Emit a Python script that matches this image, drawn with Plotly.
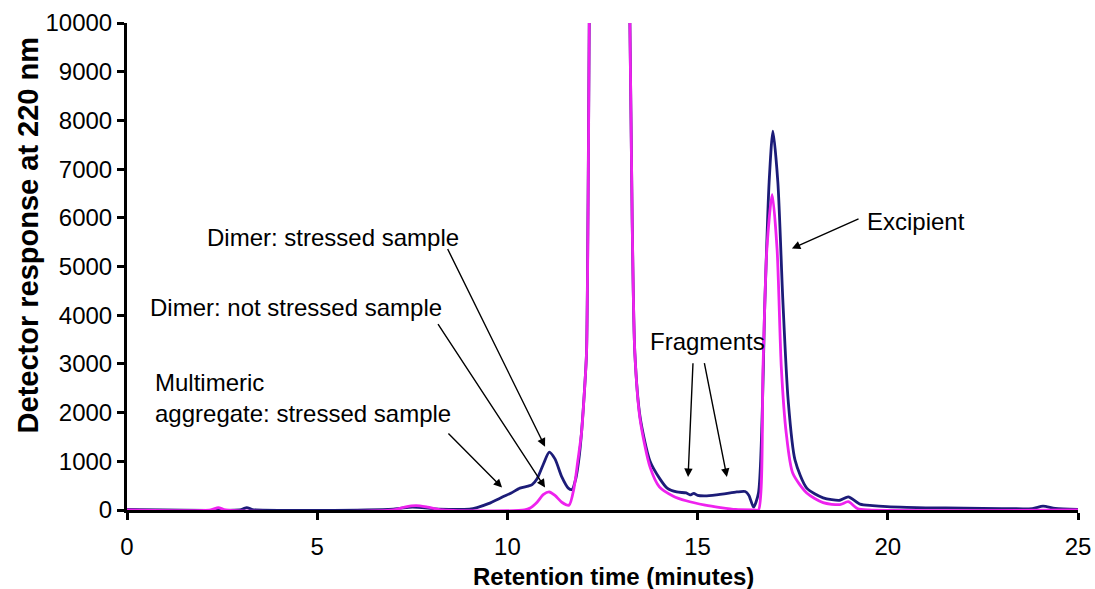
import plotly.graph_objects as go

# Stressed sample (navy)
stressed_x = [0, 3.0, 3.15, 3.3, 7.0, 7.5, 8.2, 9.0, 9.2, 9.5, 9.88, 10.1, 10.33, 10.54, 10.65,
              10.78, 10.95, 11.1, 11.25, 11.43, 11.6, 11.7, 11.8, 11.88, 11.95, 12.03, 12.08, 12.12,
              12.15, 12.2, 12.4, 12.7, 13.0, 13.22, 13.28, 13.35, 13.49, 13.75, 14.0, 14.2, 14.45,
              14.7, 14.8, 14.9, 15.0, 15.2, 15.5, 15.7, 16.03, 16.25, 16.35, 16.47, 16.6, 16.77,
              16.88, 16.98, 17.11, 17.24, 17.38, 17.56, 17.87, 18.3, 18.74, 18.96, 19.27, 19.6,
              19.98, 20.5, 21.0, 22.0, 23.0, 23.8, 24.08, 24.4, 25.0]
stressed_y = [10, 10, 50, 10, 20, 60, 20, 20, 50, 130, 270, 350, 450, 490, 520,
              640, 950, 1190, 1050, 680, 450, 420, 650, 1050, 1600, 2500, 3230, 6300,
              9800, 14000, 20000, 24000, 20000, 10000, 5970, 3230, 1900, 1000, 650, 450, 370,
              350, 310, 340, 300, 290, 310, 330, 370, 380, 300, 60, 350, 4320,
              6730, 7780, 6730, 4320, 2260, 1030, 450, 250, 200, 270, 120, 90,
              70, 55, 45, 40, 30, 30, 80, 35, 10]

# Not stressed sample (magenta)
control_x = [0, 2.2, 2.4, 2.6, 7.0, 7.3, 7.6, 7.9, 8.3, 10.45, 10.6, 10.78, 10.95, 11.1, 11.25,
             11.43, 11.62, 11.75, 11.85, 11.95, 12.03, 12.08, 12.12, 12.15, 12.2, 12.4, 12.7,
             13.0, 13.22, 13.28, 13.35, 13.49, 13.75, 14.0, 14.35, 14.7, 15.2, 15.6, 16.0, 16.5,
             16.6, 16.72, 16.82, 16.96, 17.09, 17.2, 17.33, 17.5, 17.87, 18.3, 18.74, 18.96,
             19.2, 19.5, 25.0]
control_y = [0, 0, 50, 0, 0, 60, 90, 60, 0, 0, 40, 160, 320, 370, 300,
             160, 100, 450, 1000, 1600, 2500, 3230, 6000, 9800, 14000, 20000, 24000,
             20000, 10000, 5970, 3230, 1850, 880, 470, 290, 190, 100, 50, 10, 0,
             0, 2940, 5350, 6480, 5350, 2940, 1580, 760, 350, 150, 110, 170,
             30, 0, 0]

x_ticks = [0, 5, 10, 15, 20, 25]
y_ticks = [0, 1000, 2000, 3000, 4000, 5000, 6000, 7000, 8000, 9000, 10000]

FONT = "Arial, Liberation Sans, sans-serif"

fig = go.Figure()
fig.add_trace(go.Scatter(x=stressed_x, y=stressed_y, mode="lines", name="Stressed sample",
                         line=dict(color="#1c1c78", width=2.8, shape="spline", smoothing=0.7),
                         showlegend=False))
fig.add_trace(go.Scatter(x=control_x, y=control_y, mode="lines", name="Not stressed sample",
                         line=dict(color="#ee22ee", width=2.8, shape="spline", smoothing=0.7),
                         showlegend=False))

texts = [
    dict(text="Dimer: stressed sample", x=2.05, y=5600, xanchor="left"),
    dict(text="Dimer: not stressed sample", x=0.55, y=4160, xanchor="left"),
    dict(text="Multimeric<br>aggregate: stressed sample", x=0.68, y=2300, xanchor="left"),
    dict(text="Fragments", x=15.25, y=3460, xanchor="center"),
    dict(text="Excipient", x=19.4, y=5930, xanchor="left"),
]
annotations = []
for t in texts:
    annotations.append(dict(text=t["text"], x=t["x"], y=t["y"], xref="x", yref="y",
                            xanchor=t["xanchor"], yanchor="middle", showarrow=False,
                            align="left", font=dict(family=FONT, size=24, color="black")))

arrows = [
    (10.99, 1300, 8.41, 5390),
    (10.99, 460, 8.15, 3850),
    (9.86, 460, 8.41, 1600),
    (14.75, 680, 14.88, 3045),
    (15.77, 680, 15.17, 3045),
    (17.48, 5370, 19.27, 5990),
]
for (hx, hy, tx, ty) in arrows:
    annotations.append(dict(text="", x=hx, y=hy, ax=tx, ay=ty, xref="x", yref="y",
                            axref="x", ayref="y", showarrow=True, arrowhead=2,
                            arrowsize=1.2, arrowwidth=1.4, arrowcolor="black", standoff=0))

# Axis titles (placed as annotations to match the reference offsets)
annotations.append(dict(text="<b>Retention time (minutes)</b>", x=12.78, y=-0.137,
                        xref="x", yref="paper", xanchor="center", yanchor="middle",
                        showarrow=False, font=dict(family=FONT, size=24, color="black")))
annotations.append(dict(text="<b>Detector response at 220 nm</b>", x=-0.104, y=5640,
                        xref="paper", yref="y", xanchor="center", yanchor="middle",
                        textangle=-90, showarrow=False,
                        font=dict(family=FONT, size=29, color="black")))

fig.update_layout(
    width=1095, height=589,
    margin=dict(l=127, r=17, t=23, b=79),
    paper_bgcolor="white", plot_bgcolor="white",
    font=dict(family=FONT, size=24, color="black"),
    annotations=annotations,
    xaxis=dict(range=[0, 25], tickvals=x_ticks, ticktext=[str(v) for v in x_ticks],
               showline=True, linewidth=3, linecolor="black", ticks="outside",
               ticklen=7, tickwidth=3, tickcolor="black", showgrid=False, zeroline=False,
               tickfont=dict(size=24), automargin=False, ticklabelstandoff=6),
    yaxis=dict(range=[0, 10000], tickvals=y_ticks, ticktext=[str(v) for v in y_ticks],
               showline=True, linewidth=3, linecolor="black", ticks="outside",
               ticklen=7, tickwidth=3, tickcolor="black", showgrid=False, zeroline=False,
               tickfont=dict(size=24), automargin=False),
)

fig.write_html("out.html")
